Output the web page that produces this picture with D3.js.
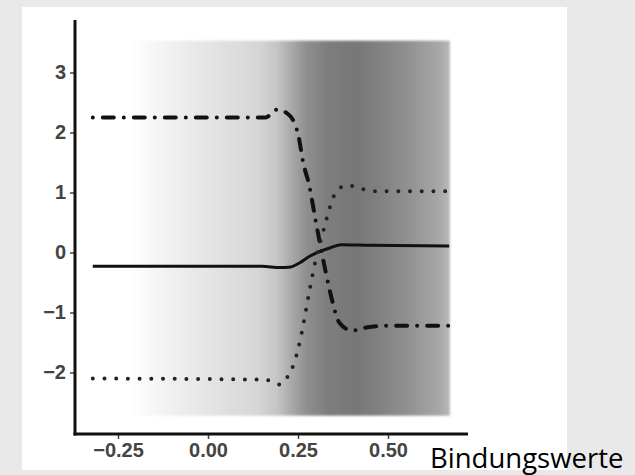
<!DOCTYPE html>
<html>
<head>
<meta charset="utf-8">
<script src="https://cdn.jsdelivr.net/npm/d3@7"></script>
<style>
  body { margin: 0; background: #e9e9e9; }
  svg { display: block; }
</style>
</head>
<body>
<div id="chart"></div>
<script>
// ticks
var xTicks = [-0.25, 0, 0.25, 0.5];
var yTicks = [-2, -1, 0, 1, 2, 3];

// solid line
var solidX = [-0.32, 0.15, 0.2, 0.23, 0.255, 0.28, 0.3, 0.34, 0.37, 0.45, 0.67];
var solidY = [-0.23, -0.23, -0.25, -0.24, -0.17, -0.07, -0.01, 0.08, 0.13, 0.12, 0.11];

// dash-dot line
var dashX = [-0.32, 0.16, 0.19, 0.22, 0.25, 0.265, 0.28, 0.30, 0.32, 0.34, 0.365, 0.40, 0.44, 0.50, 0.67];
var dashY = [2.25, 2.25, 2.38, 2.32, 1.98, 1.48, 1.15, 0.5, -0.12, -0.68, -1.17, -1.3, -1.25, -1.22, -1.22];

// dotted line
var dotX = [-0.32, 0.16, 0.2, 0.225, 0.24, 0.26, 0.28, 0.30, 0.32, 0.34, 0.36, 0.39, 0.42, 0.47, 0.67];
var dotY = [-2.1, -2.12, -2.2, -2.03, -1.83, -1.35, -0.7, -0.1, 0.35, 0.78, 1.05, 1.12, 1.07, 1.02, 1.02];

// background shading (binding values), grey level per x
var shadeX = [-0.32, -0.217, -0.05, 0.136, 0.19, 0.228, 0.275, 0.339, 0.414, 0.469, 0.553, 0.644, 0.672];
var shadeGrey = [255, 255, 234, 214, 198, 172, 142, 124, 119, 128, 144, 168, 185];
var shadeTop = 3.53, shadeBottom = -2.72;

var width = 635, height = 475;

var x = d3.scaleLinear().domain([0, 0.25]).range([208, 298]);
var y = d3.scaleLinear().domain([0, 1]).range([252.5, 192.5]);

var svg = d3.select("#chart").append("svg")
  .attr("width", width)
  .attr("height", height);

// white panel
svg.append("rect")
  .attr("x", 22).attr("y", 7)
  .attr("width", 545).attr("height", 463)
  .attr("fill", "#fff");

var defs = svg.append("defs");
var grad = defs.append("linearGradient")
  .attr("id", "shade")
  .attr("gradientUnits", "userSpaceOnUse")
  .attr("x1", x(shadeX[0])).attr("x2", x(shadeX[shadeX.length - 1]))
  .attr("y1", 0).attr("y2", 0);

var x0 = shadeX[0], x1 = shadeX[shadeX.length - 1];
grad.selectAll("stop")
  .data(shadeX)
  .enter()
  .append("stop")
  .attr("offset", function(d) { return (d - x0) / (x1 - x0); })
  .attr("stop-color", function(d, i) { var g = shadeGrey[i]; return d3.rgb(g, g, g); });

defs.append("filter").attr("id", "soft")
  .append("feGaussianBlur").attr("stdDeviation", 1.2);

svg.append("rect")
  .attr("x", x(x0))
  .attr("y", y(shadeTop))
  .attr("width", x(x1) - x(x0))
  .attr("height", y(shadeBottom) - y(shadeTop))
  .attr("fill", "url(#shade)")
  .attr("filter", "url(#soft)");

// axes
var xAxis = d3.axisBottom(x)
  .tickValues(xTicks)
  .tickSize(5)
  .tickPadding(4)
  .tickFormat(function(d) { return d3.format(".2f")(d).replace("-", "\u2212"); });

var yAxis = d3.axisLeft(y)
  .tickValues(yTicks)
  .tickSize(5)
  .tickPadding(4)
  .tickFormat(function(d) { return String(d).replace("-", "\u2212"); });

var gx = svg.append("g")
  .attr("transform", "translate(0,434)")
  .call(xAxis);

var gy = svg.append("g")
  .attr("transform", "translate(75,0)")
  .call(yAxis);

[gx, gy].forEach(function(g) {
  g.select(".domain").remove();
  g.selectAll(".tick line").attr("stroke", "#444").attr("stroke-width", 1.5);
  g.selectAll(".tick text")
    .attr("fill", "#444")
    .style("font-family", "'Liberation Sans', Arial, sans-serif")
    .style("font-weight", "bold")
    .style("font-size", "20px");
});

// axis lines
svg.append("line")
  .attr("x1", 75).attr("x2", 75)
  .attr("y1", 20).attr("y2", 435.5)
  .attr("stroke", "#111").attr("stroke-width", 3);
svg.append("line")
  .attr("x1", 73.5).attr("x2", 468)
  .attr("y1", 434).attr("y2", 434)
  .attr("stroke", "#111").attr("stroke-width", 3);

var line = d3.line()
  .x(function(d) { return x(d[0]); })
  .y(function(d) { return y(d[1]); })
  .curve(d3.curveMonotoneX);

function pairs(xs, ys) {
  return xs.map(function(v, i) { return [v, ys[i]]; });
}

svg.append("path")
  .datum(pairs(solidX, solidY))
  .attr("d", line)
  .attr("fill", "none")
  .attr("stroke", "#111")
  .attr("stroke-width", 3);

svg.append("path")
  .datum(pairs(dashX, dashY))
  .attr("d", line)
  .attr("fill", "none")
  .attr("stroke", "#111")
  .attr("stroke-width", 4)
  .attr("stroke-linecap", "round")
  .attr("stroke-dasharray", "0 10 11 10");

svg.append("path")
  .datum(pairs(dotX, dotY))
  .attr("d", line)
  .attr("fill", "none")
  .attr("stroke", "#222")
  .attr("stroke-width", 4)
  .attr("stroke-linecap", "round")
  .attr("stroke-dasharray", "0 11.7");

svg.append("text")
  .attr("x", 430)
  .attr("y", 468)
  .attr("fill", "#000")
  .style("font-family", "'Open Sans', 'Noto Sans', sans-serif")
  .style("font-size", "27.5px")
  .text("Bindungswerte");
</script>
</body>
</html>
